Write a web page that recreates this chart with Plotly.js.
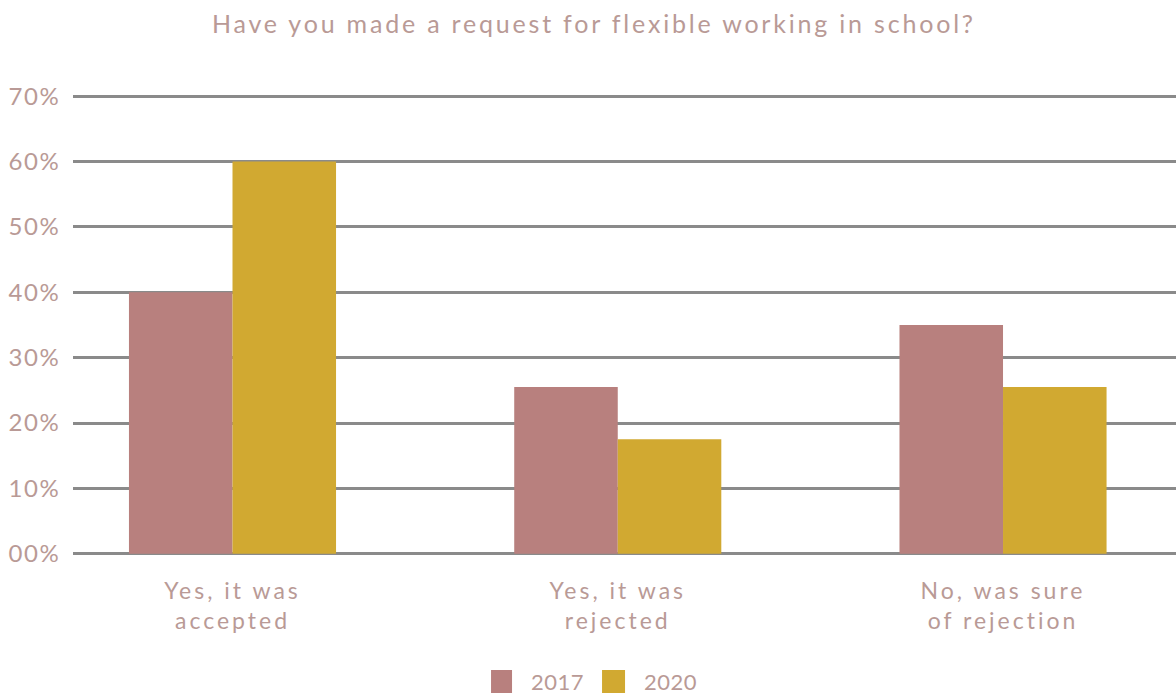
<!DOCTYPE html>
<html>
<head>
<meta charset="utf-8">
<script src="https://cdn.plot.ly/plotly-3.0.1.min.js"></script>
<style>
html,body{margin:0;padding:0;background:#fff;}
#chart{width:1176px;height:697px;}
#chart .gtitle{letter-spacing:2.8px;}
#chart .xtick text{letter-spacing:3px;}
#chart .ytick text{letter-spacing:1.5px;}
#chart .legendtext{letter-spacing:0.5px;}
</style>
</head>
<body>
<div id="chart"></div>
<script>
const categories = ["Yes, it was<br>accepted", "Yes, it was<br>rejected", "No, was sure<br>of rejection"];
const series2017 = [40, 25.5, 35];
const series2020 = [60, 17.5, 25.5];
const yTickVals = [0, 10, 20, 30, 40, 50, 60, 70];
const yTickText = ["00%", "10%", "20%", "30%", "40%", "50%", "60%", "70%"];

const textColor = "#b99a96";
const fontFam = "Lato, 'Open Sans', sans-serif";

const data = [
  {type: "bar", name: "2017", x: [0,1,2], y: series2017, marker: {color: "#b8807e"}},
  {type: "bar", name: "2020", x: [0,1,2], y: series2020, marker: {color: "#d1a931"}}
];

const layout = {
  width: 1176, height: 697,
  paper_bgcolor: "#fff", plot_bgcolor: "#fff",
  margin: {l: 73, r: 0, t: 93, b: 140, autoexpand: false},
  font: {family: fontFam, color: textColor, size: 21},
  title: {text: "Have you made a request for flexible working in school?", x: 0.505, xanchor: "center", y: 0.965, yanchor: "middle", font: {size: 25, color: textColor, family: fontFam}},
  barmode: "group",
  bargap: 0.4625,
  bargroupgap: 0,
  showlegend: true,
  legend: {orientation: "h", x: 0.379, xanchor: "left", y: -0.269, yanchor: "middle", font: {size: 22, color: textColor}, entrywidth: 68, entrywidthmode: "pixels", traceorder: "normal"},
  xaxis: {
    range: [-0.414, 2.449],
    tickvals: [0,1,2], ticktext: categories,
    showgrid: false, zeroline: false, showline: false,
    ticks: "outside", ticklen: 13, tickcolor: "rgba(0,0,0,0)",
    tickfont: {size: 23, color: textColor},
    fixedrange: true
  },
  yaxis: {
    range: [-0.5, 70.5],
    tickvals: yTickVals, ticktext: yTickText,
    showgrid: true, gridcolor: "#8a8a8a", gridwidth: 3,
    zeroline: false, showline: false,
    ticks: "outside", ticklen: 7, tickcolor: "rgba(0,0,0,0)",
    tickfont: {size: 24, color: textColor},
    fixedrange: true
  }
};

Plotly.newPlot("chart", data, layout, {displayModeBar: false, staticPlot: true}).then(function(gd){
  // enlarge legend swatches to match the reference's larger squares
  gd.querySelectorAll(".legendpoints path").forEach(function(p){
    p.setAttribute("d", "M1,11.5H-22V-11.5H1Z");
  });
});
</script>
</body>
</html>
